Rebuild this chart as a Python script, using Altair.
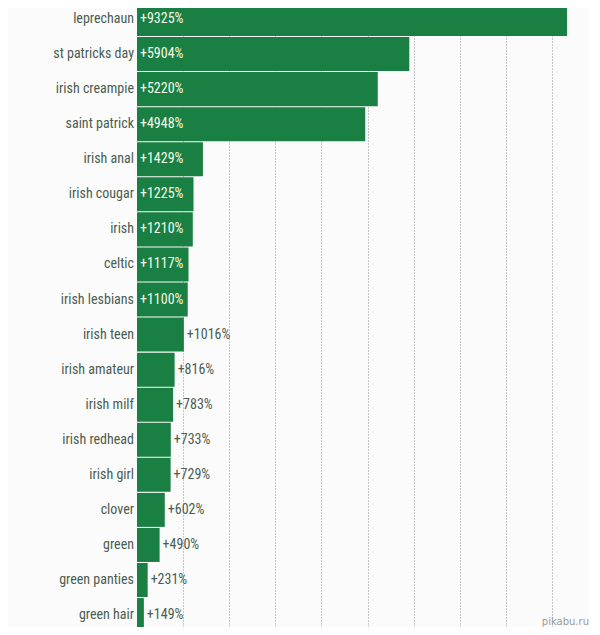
import altair as alt
import pandas as pd

categories = [
    "leprechaun", "st patricks day", "irish creampie", "saint patrick",
    "irish anal", "irish cougar", "irish", "celtic", "irish lesbians",
    "irish teen", "irish amateur", "irish milf", "irish redhead",
    "irish girl", "clover", "green", "green panties", "green hair",
]
growth = [9325, 5904, 5220, 4948, 1429, 1225, 1210, 1117, 1100,
          1016, 816, 783, 733, 729, 602, 490, 231, 149]
grid_values = [1000, 2000, 3000, 4000, 5000, 6000, 7000, 8000, 9000]
inside_threshold = 1100

FONT = "Roboto Condensed"
FS = 14
BAR = "#1a7f43"
TEXT = "#4a5d50"

df = pd.DataFrame({"term": categories, "growth": growth,
                   "rank": list(range(len(categories)))})

xscale = alt.Scale(domain=[0, 9800], nice=False, zero=True)
yscale = alt.Scale(domain=[-0.3137, 17.34], reverse=True, nice=False, zero=False)

base = alt.Chart(df).transform_calculate(
    label="'+' + datum.growth + '%'",
    y0="datum.rank - 0.485",
    y1="datum.rank + 0.485",
)

bars = base.mark_rect(color=BAR, clip=True).encode(
    x=alt.X("zero:Q", scale=xscale,
            axis=alt.Axis(values=grid_values, grid=True, gridDash=[1, 2],
                          gridColor="#8f8f8f", gridWidth=1, labels=False,
                          ticks=False, domain=False, title=None)),
    x2="growth:Q",
    y=alt.Y("y0:Q", scale=yscale, axis=None),
    y2="y1:Q",
).transform_calculate(zero="0")

terms = base.mark_text(align="right", baseline="middle", dx=-3, font=FONT,
                       fontSize=FS, color=TEXT).encode(
    x=alt.datum(0, scale=xscale),
    y=alt.Y("rank:Q", scale=yscale, axis=None),
    text="term:N",
)

inside = base.transform_filter(f"datum.growth >= {inside_threshold}").mark_text(
    align="left", baseline="middle", dx=3, font=FONT, fontSize=FS,
    color="#f4fbea").encode(
    x=alt.datum(0, scale=xscale),
    y=alt.Y("rank:Q", scale=yscale, axis=None),
    text="label:N",
)

outside = base.transform_filter(f"datum.growth < {inside_threshold}").mark_text(
    align="left", baseline="middle", dx=3, font=FONT, fontSize=FS,
    color=TEXT).encode(
    x=alt.X("growth:Q", scale=xscale),
    y=alt.Y("rank:Q", scale=yscale, axis=None),
    text="label:N",
)

watermark = alt.Chart(pd.DataFrame({"t": ["pikabu.ru"]})).mark_text(
    align="right", baseline="bottom", font="DejaVu Sans", fontSize=10,
    color="#9a9a9a").encode(
    x=alt.value(452), y=alt.value(619), text="t:N")

chart = alt.layer(bars, terms, inside, outside, watermark).properties(
    width=452, height=619,
    autosize=alt.AutoSizeParams(type="none"),
    padding={"left": 129, "top": 0, "right": 0, "bottom": 0},
    background="#fbfbfb",
).configure_view(stroke=None)

chart.save("out.html", embed_options={"renderer": "svg", "actions": False})
